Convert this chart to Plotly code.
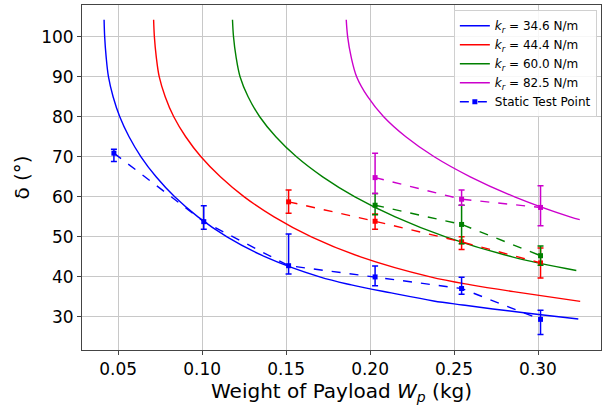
import plotly.graph_objects as go

# Theoretical curves (smoothed by eye)
d_346 = [104.2, 100, 95, 90, 85, 80, 75, 70, 65, 60, 55, 50, 45, 40, 38, 36, 34, 33, 32, 31, 30, 29.5]
w_346 = [0.04165, 0.04199, 0.04286, 0.04424, 0.04701, 0.05099, 0.05652, 0.06362, 0.07261, 0.08369, 0.09753,
         0.11483, 0.13766, 0.17001, 0.18887, 0.21257, 0.23783, 0.25513, 0.27312, 0.29284, 0.31360, 0.32398]

d_444 = [104.2, 100, 95, 90, 85, 80, 75, 70, 65, 60, 55, 50, 45, 40, 38, 36, 33.9]
w_444 = [0.07114, 0.07159, 0.07270, 0.07447, 0.07803, 0.08313, 0.09024, 0.09934, 0.11088, 0.12509, 0.14285,
         0.16505, 0.19435, 0.23587, 0.26007, 0.29048, 0.32511]

d_600 = [104.2, 100, 95, 90, 85, 80, 75, 70, 65, 60, 55, 50, 45, 41.6]
w_600 = [0.1181, 0.1187, 0.1202, 0.1226, 0.1274, 0.1343, 0.1439, 0.1562, 0.1718, 0.1910, 0.2150, 0.2450, 0.2846, 0.3228]

d_825 = [104.2, 100, 95, 90, 85, 80, 75, 70, 65, 60, 55, 54.3]
w_825 = [0.18583, 0.18665, 0.18871, 0.19201, 0.19861, 0.20810, 0.22130, 0.23821, 0.25966, 0.28606, 0.31906, 0.32484]

# Static test points
wt_346 = [0.0475, 0.101, 0.1515, 0.203, 0.2545, 0.3015]
dt_346 = [70.9, 53.8, 42.8, 40.0, 37.1, 29.4]
ep_346 = [1.0, 4.0, 7.9, 2.7, 2.8, 2.3]
em_346 = [2.1, 1.9, 2.1, 2.2, 1.4, 3.8]

wt_444 = [0.1515, 0.203, 0.2545, 0.3015]
dt_444 = [58.75, 53.9, 48.75, 43.5]
ep_444 = [2.95, 1.8, 1.25, 3.75]
em_444 = [2.85, 2.0, 1.9, 3.75]

wt_600 = [0.203, 0.2545, 0.3015]
dt_600 = [57.9, 53.1, 45.3]
ep_600 = [2.9, 4.8, 2.4]
em_600 = [2.4, 4.8, 2.4]

wt_825 = [0.203, 0.2545, 0.3015]
dt_825 = [64.8, 59.4, 57.35]
ep_825 = [6.1, 2.3, 5.4]
em_825 = [4.0, 1.5, 4.6]

x_ticks = [0.05, 0.10, 0.15, 0.20, 0.25, 0.30]
x_tick_labels = ["0.05", "0.10", "0.15", "0.20", "0.25", "0.30"]
y_ticks = [30, 40, 50, 60, 70, 80, 90, 100]

fig = go.Figure()

curves = [
    (w_346, d_346, "blue", "34.6"),
    (w_444, d_444, "red", "44.4"),
    (w_600, d_600, "green", "60.0"),
    (w_825, d_825, "#cc00cc", "82.5"),
]
for w, d, c, k in curves:
    fig.add_trace(go.Scatter(
        x=w, y=d, mode="lines",
        line=dict(color=c, width=1.4, shape="spline", smoothing=1.0),
        name=f"<i>k<sub>r</sub></i> = {k} N/m",
    ))

tests = [
    (wt_346, dt_346, ep_346, em_346, "blue", True),
    (wt_444, dt_444, ep_444, em_444, "red", False),
    (wt_600, dt_600, ep_600, em_600, "green", False),
    (wt_825, dt_825, ep_825, em_825, "#cc00cc", False),
]
for w, d, ep, em, c, show in tests:
    fig.add_trace(go.Scatter(
        x=w, y=d, mode="lines+markers",
        line=dict(color=c, width=1.4, dash="dash"),
        marker=dict(symbol="square", size=5, color=c),
        error_y=dict(type="data", symmetric=False, array=ep, arrayminus=em,
                     color=c, thickness=1.5, width=3),
        name="Static Test Point", showlegend=show,
    ))

fig.update_layout(
    width=605, height=405,
    margin=dict(l=82, r=4, t=5, b=55),
    paper_bgcolor="white", plot_bgcolor="white",
    font=dict(family="DejaVu Sans", color="black"),
    legend=dict(
        x=0.992, y=0.985, xanchor="right", yanchor="top",
        bgcolor="rgba(255,255,255,0.85)", bordercolor="#d0d0d0", borderwidth=1,
        font=dict(size=12), tracegroupgap=0, itemwidth=30,
    ),
)
fig.update_xaxes(
    range=[0.0285, 0.3375], tickvals=x_ticks, ticktext=x_tick_labels,
    showgrid=True, gridcolor="#c8c8c8", gridwidth=1,
    showline=True, linecolor="#444", linewidth=1, mirror=True,
    ticks="outside", ticklen=4, tickcolor="#444",
    tickfont=dict(size=17), zeroline=False, automargin=False,
    title=dict(text="Weight of Payload <i>W<sub>p</sub></i> (kg)", font=dict(size=20), standoff=2),
)
fig.update_yaxes(
    range=[21.75, 107.9], tickvals=y_ticks,
    showgrid=True, gridcolor="#c8c8c8", gridwidth=1,
    showline=True, linecolor="#444", linewidth=1, mirror=True,
    ticks="outside", ticklen=4, tickcolor="#444",
    tickfont=dict(size=17), zeroline=False, automargin=False,
    title=dict(text="δ (°)", font=dict(size=20), standoff=6),
)

fig.write_html("out.html", config={"displayModeBar": False})

with open("out.html", "r", encoding="utf-8") as f:
    html = f.read()
html = html.replace("<head>", "<head><style>html,body{margin:0;padding:0;overflow:hidden;}</style>", 1)
with open("out.html", "w", encoding="utf-8") as f:
    f.write(html)
